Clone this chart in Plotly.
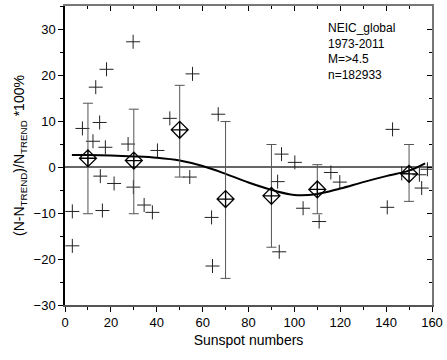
import plotly.graph_objects as go

# Individual data points (crosses)
pts_x = [3.2, 3.2, 7.6, 12.2, 13.4, 15.1, 15.4, 16.3, 17.6, 18.1, 21.4, 27.5, 29.7, 29.8,
         34.5, 38.1, 40.3, 45.7, 54.4, 55.6, 63.9, 64.3, 66.8, 92.7, 93.4, 94.4, 100.2,
         103.8, 110.8, 115.9, 119.8, 140.5, 142.8, 146.8, 154.5, 155.5, 158.0]
pts_y = [-9.6, -17.1, 8.5, 5.7, 17.5, 9.8, -1.9, -9.4, 4.4, 21.4, -3.5, 5.1, 27.4, -4.3,
         -8.2, -9.8, 3.7, 10.7, -2.1, 20.4, -10.9, -21.5, 11.6, -3.1, -18.4, 2.9, 1.1,
         -8.9, -11.8, -1.1, -3.2, -8.7, 8.3, -1.3, -1.6, -4.5, -0.4]

# Binned means with error bars
bin_x = [10, 30, 50, 70, 90, 110, 150]
bin_y = [2.0, 1.5, 8.2, -6.9, -6.2, -4.8, -1.4]
err_plus = [12.0, 11.2, 9.7, 16.9, 11.2, 5.4, 6.4]
err_minus = [12.1, 11.6, 10.3, 17.3, 11.2, 5.3, 6.0]

# Fitted curve
fit_x = [3, 10, 20, 30, 40, 50, 60, 70, 80, 90, 100, 110, 120, 130, 140, 150, 157]
fit_y = [2.7, 2.7, 2.6, 2.4, 2.1, 1.5, 0.3, -1.4, -3.3, -4.9, -6.0, -5.8, -4.6, -3.2, -1.9, -0.7, 0.9]

x_ticks = [0, 20, 40, 60, 80, 100, 120, 140, 160]
y_ticks = [-30, -20, -10, 0, 10, 20, 30]

FONT = "Liberation Sans, Arial, sans-serif"

fig = go.Figure()

fig.add_trace(go.Scatter(
    x=pts_x, y=pts_y, mode="markers",
    marker=dict(symbol="cross-thin-open", size=10, color="#222",
                line=dict(color="#222", width=1)),
    showlegend=False))

fig.add_trace(go.Scatter(
    x=fit_x, y=fit_y, mode="lines", line=dict(color="black", width=2, shape="spline"),
    showlegend=False))

fig.add_trace(go.Scatter(
    x=bin_x, y=bin_y, mode="markers",
    marker=dict(symbol="diamond-cross-open", size=13, color="black",
                line=dict(color="black", width=1.3)),
    error_y=dict(type="data", symmetric=False, array=err_plus, arrayminus=err_minus,
                 color="#555", thickness=1, width=5),
    showlegend=False))

fig.update_layout(
    width=447, height=360,
    margin=dict(l=65, r=15, t=6, b=55),
    paper_bgcolor="white", plot_bgcolor="white",
    font=dict(family=FONT, size=13, color="black"),
    xaxis=dict(range=[0, 160], tickvals=x_ticks, ticks="outside", ticklen=5,
               tickcolor="black", showgrid=False, zeroline=False, automargin=False,
               showline=True, linecolor="#555", linewidth=1.5,
               minor=dict(dtick=10, ticks="outside", ticklen=3, tickcolor="black"),
               title=dict(text="Sunspot numbers", font=dict(size=14), standoff=6),
               tickfont=dict(size=13)),
    yaxis=dict(range=[-30, 35.2], tickvals=y_ticks, ticks="outside", ticklen=5,
               tickcolor="black", showgrid=False, automargin=False,
               zeroline=True, zerolinecolor="#666", zerolinewidth=1.5,
               showline=True, linecolor="black", linewidth=1.5,
               minor=dict(dtick=5, ticks="outside", ticklen=3, tickcolor="black"),
               title=dict(text="(N-N<sub>TREND</sub>)/N<sub>TREND</sub> *100%",
                          font=dict(size=14), standoff=6),
               tickfont=dict(size=13)),
    xaxis2=dict(range=[0, 160], overlaying="x", side="top", tickvals=x_ticks,
                showticklabels=False, ticks="inside", ticklen=5, tickcolor="black",
                showgrid=False, zeroline=False, showline=True, linecolor="#777",
                linewidth=1.5, automargin=False,
                minor=dict(dtick=10, ticks="inside", ticklen=3, tickcolor="black")),
    yaxis2=dict(range=[-30, 35.2], overlaying="y", side="right", tickvals=y_ticks,
                showticklabels=False, ticks="inside", ticklen=5, tickcolor="black",
                showgrid=False, zeroline=False, showline=True, linecolor="#777",
                linewidth=1.5, automargin=False,
                minor=dict(dtick=5, ticks="inside", ticklen=3, tickcolor="black")),
)

# dummy trace to activate the mirrored axes
fig.add_trace(go.Scatter(x=[None], y=[None], xaxis="x2", yaxis="y2", showlegend=False,
                         hoverinfo="skip"))

fig.add_annotation(
    x=0.712, y=0.955, xref="paper", yref="paper", xanchor="left", yanchor="top",
    text="NEIC_global<br>1973-2011<br>M=>4.5<br>n=182933", align="left",
    showarrow=False, font=dict(family=FONT, size=12, color="black"))

fig.write_html("out.html", config={"displayModeBar": False},
               post_script="document.body.style.margin='0';document.body.style.overflow='hidden';")
